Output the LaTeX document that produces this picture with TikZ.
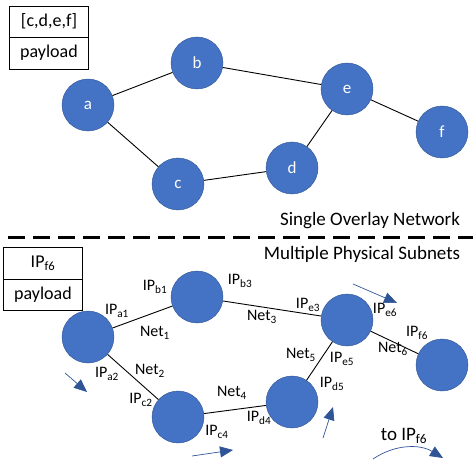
\documentclass[tikz,border=0pt]{standalone}
\usepackage{fontspec}
\setmainfont{Carlito}
\usetikzlibrary{positioning,arrows.meta}
\definecolor{nodeblue}{HTML}{4472C4}
\definecolor{rimblue}{HTML}{2F528F}
\definecolor{flowblue}{HTML}{2F5597}
\newcommand{\ipaddr}[1]{IP\textsubscript{#1}}
\newcommand{\subnet}[1]{Net\textsubscript{#1}}
\begin{document}
\begin{tikzpicture}[x=1pt, y=-1pt,
  host/.style={circle, draw=rimblue, fill=nodeblue, minimum size=52pt, inner sep=0pt, text=white, font=\fontsize{17}{17}\selectfont},
  cell/.style={draw, rectangle, minimum width=79pt, minimum height=31.5pt, inner sep=0pt, outer sep=0pt, font=\fontsize{18}{18}\selectfont},
  lbl/.style={inner sep=0pt, font=\fontsize{16}{16}\selectfont},
  banner/.style={inner sep=0pt, font=\fontsize{19}{19}\selectfont},
  link/.style={draw, line width=0.9pt},
  flow/.style={draw=flowblue, line width=0.7pt, -{Triangle[length=13pt,width=11pt]}}]
  \useasboundingbox (0,0) rectangle (473,462);

  % overlay network
  \node (hops) [cell] at (49,21.5) {[c,d,e,f]};
  \node (data) [cell, below=0pt of hops] {payload};
  \node (a) [host] at (88,105) {a};
  \node (b) [host] at (197,63) {b};
  \node (c) [host] at (178,184) {c};
  \node (d) [host] at (292,168) {d};
  \node (e) [host] at (347,89) {e};
  \node (f) [host] at (442,132) {f};
  \draw[link] (a) -- (b);
  \draw[link] (a) -- (c);
  \draw[link] (b) -- (e);
  \draw[link] (c) -- (d);
  \draw[link] (d) -- (e);
  \draw[link] (e) -- (f);
  \node (single) [banner] at (370,221) {Single Overlay Network};

  \coordinate (cutL) at (8,237);
  \coordinate (cutR) at (473,237);
  \draw[line width=3pt, dash pattern=on 17pt off 8pt] (cutL) -- (cutR);

  % physical subnets
  \node (multi) [banner] at (362,254) {Multiple Physical Subnets};
  \node (dst) [cell] at (43,263) {\ipaddr{f6}};
  \node (data2) [cell, below=0pt of dst] {payload};
  \node (pa) [host] at (88,337) {};
  \node (pb) [host] at (197,297) {};
  \node (pc) [host] at (178,417) {};
  \node (pd) [host] at (292,402) {};
  \node (pe) [host] at (347,320) {};
  \node (pf) [host] at (442,365) {};
  \draw[link] (pa) -- (pb);
  \draw[link] (pa) -- (pc);
  \draw[link] (pb) -- (pe);
  \draw[link] (pc) -- (pd);
  \draw[link] (pd) -- (pe);
  \draw[link] (pe) -- (pf);

  \node (ipa1) [lbl] at (117,311) {\ipaddr{a1}};
  \node (ipb1) [lbl] at (155,287) {\ipaddr{b1}};
  \node (net1) [lbl] at (155,333) {\subnet{1}};
  \node (ipa2) [lbl] at (107,374) {\ipaddr{a2}};
  \node (net2) [lbl] at (150,371) {\subnet{2}};
  \node (ipc2) [lbl] at (141,400) {\ipaddr{c2}};
  \node (ipc4) [lbl] at (217,432) {\ipaddr{c4}};
  \node (net4) [lbl] at (232,393) {\subnet{4}};
  \node (ipd4) [lbl] at (259,418) {\ipaddr{d4}};
  \node (ipd5) [lbl] at (332,384) {\ipaddr{d5}};
  \node (net5) [lbl] at (301,355) {\subnet{5}};
  \node (ipe5) [lbl] at (342,359) {\ipaddr{e5}};
  \node (ipe3) [lbl] at (308,305) {\ipaddr{e3}};
  \node (net3) [lbl] at (262,317) {\subnet{3}};
  \node (ipb3) [lbl] at (240,281) {\ipaddr{b3}};
  \node (ipe6) [lbl] at (385,310) {\ipaddr{e6}};
  \node (ipf6) [lbl] at (417,333) {\ipaddr{f6}};
  \node (net6) [lbl] at (393,349) {\subnet{6}};
  \node (toip) [banner] at (404,436) {to \ipaddr{f6}};

  % forwarding direction
  \draw[flow] (65,373) -- (87,392);
  \draw[flow] (192,456) -- (233,450);
  \draw[flow] (323,438) -- (333,407);
  \draw[flow] (353,284) -- (397,303);
  \draw[flow] (373,459) .. controls (395,444) and (420,444) .. (443,458);
\end{tikzpicture}
\end{document}
